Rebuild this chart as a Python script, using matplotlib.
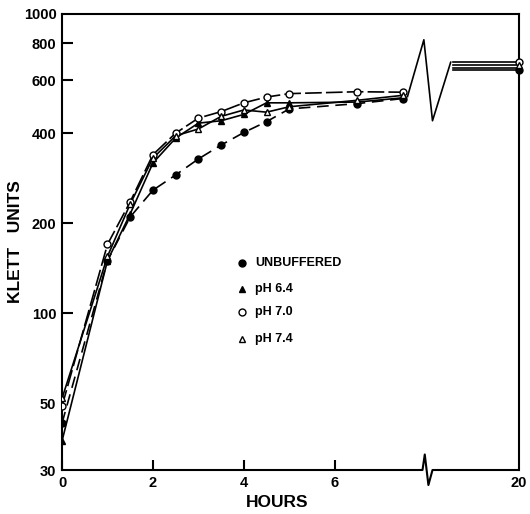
import matplotlib
matplotlib.use("Agg")
import matplotlib.pyplot as plt

plt.rcParams['font.family'] = ['Liberation Sans', 'DejaVu Sans']
plt.rcParams['font.weight'] = 'bold'

# ---- data -------------------------------------------------------------
hours = [0, 1, 1.5, 2, 2.5, 3, 3.5, 4, 4.5, 5, 6.5, 7.5]
final_hour = 20
unbuffered = [43, 150, 210, 258, 290, 328, 365, 402, 437, 482, 502, 522]
ph64 = [37.5, 150, 215, 318, 385, 432, 440, 462, 505, 505, 508, 525]
ph70 = [49, 170, 236, 339, 400, 449, 472, 505, 528, 542, 550, 548]
ph74 = [52, 155, 232, 330, 392, 413, 455, 478, 470, 490, 515, 535]
final_values = {'UNBUFFERED': 650, 'pH 6.4': 662, 'pH 7.0': 692, 'pH 7.4': 676}
# zig-zag (break) trace between 7.5 h and 20 h
break_x = [7.6, 7.96, 8.15, 8.55]
break_y = [530, 820, 440, 690]
x_ticks = [0, 2, 4, 6]
y_ticks = [30, 50, 100, 200, 400, 600, 800, 1000]

# ---- figure -----------------------------------------------------------
fig = plt.figure(figsize=(5.30, 5.14), dpi=100)
ax = fig.add_axes([0.117, 0.0856, 0.862, 0.8872])
x_end = 10.05  # plotting position of the 20 h point

series = [
    ('UNBUFFERED', unbuffered, 'o', 'black', (0, (7, 4))),
    ('pH 6.4', ph64, '^', 'black', '-'),
    ('pH 7.0', ph70, 'o', 'white', (0, (10, 2.5))),
    ('pH 7.4', ph74, '^', 'white', '-'),
]
for name, vals, mk, fc, ls in series:
    ax.plot(hours, vals, color='black', lw=1.2, ls=ls, zorder=2)
    ax.plot(hours, vals, ls='none', marker=mk, ms=5, mfc=fc, mec='black',
            mew=1.0, zorder=3)
    fv = final_values[name]
    ax.plot([break_x[-1] + 0.05, x_end], [fv, fv], color='black', lw=1.2,
            zorder=2)
    ax.plot([x_end], [fv], ls='none', marker=mk, ms=5, mfc=fc, mec='black',
            mew=1.0, zorder=3, clip_on=False)

ax.plot(break_x, break_y, color='black', lw=1.2, zorder=2)

ax.set_yscale('log')
ax.set_ylim(30, 1000)
ax.set_xlim(0, x_end)
ax.set_yticks(y_ticks)
ax.set_yticklabels([str(t) for t in y_ticks])
ax.yaxis.set_minor_locator(matplotlib.ticker.NullLocator())
ax.set_xticks(x_ticks + [x_end])
ax.set_xticklabels([str(t) for t in x_ticks] + [str(final_hour)])
ax.tick_params(direction='in', length=8, width=1.5, labelsize=10.5, pad=4)
ax.tick_params(axis='x', which='major', length=7)
for lab in ax.get_xticklabels() + ax.get_yticklabels():
    lab.set_fontweight('bold')
ax.xaxis.get_major_ticks()[-1].tick1line.set_visible(False)
ax.yaxis.get_major_ticks()[0].tick1line.set_visible(False)
ax.yaxis.get_major_ticks()[-1].tick1line.set_visible(False)
ax.yaxis.get_major_ticks()[1].tick1line.set_visible(False)

for s in ['left', 'top', 'right']:
    ax.spines[s].set_linewidth(1.5)
ax.spines['bottom'].set_visible(False)
# bottom axis with break symbol
trans = ax.get_xaxis_transform()
ax.plot([0, 7.93, 7.98, 8.06, 8.15, x_end], [0, 0, 0.034, -0.033, 0, 0],
        color='black', lw=1.5, transform=trans, clip_on=False, zorder=4)

ax.set_ylabel('KLETT   UNITS', fontsize=12.5, fontweight='bold')
ax.yaxis.set_label_coords(-0.085, 0.5)
ax.set_xlabel('HOURS', fontsize=12.5, fontweight='bold')
ax.xaxis.set_label_coords(0.47, -0.055)

# legend drawn by hand
leg = [('UNBUFFERED', 'o', 'black', 0.454),
       ('pH 6.4', '^', 'black', 0.397),
       ('pH 7.0', 'o', 'white', 0.346),
       ('pH 7.4', '^', 'white', 0.287)]
for name, mk, fc, yy in leg:
    ax.plot([0.395], [yy], transform=ax.transAxes, marker=mk, ms=5, mfc=fc,
            mec='black', mew=1.0, ls='none')
    ax.text(0.422, yy, name, transform=ax.transAxes, fontsize=9,
            fontweight='bold', va='center', ha='left')

fig.savefig('out.png', dpi=100)
